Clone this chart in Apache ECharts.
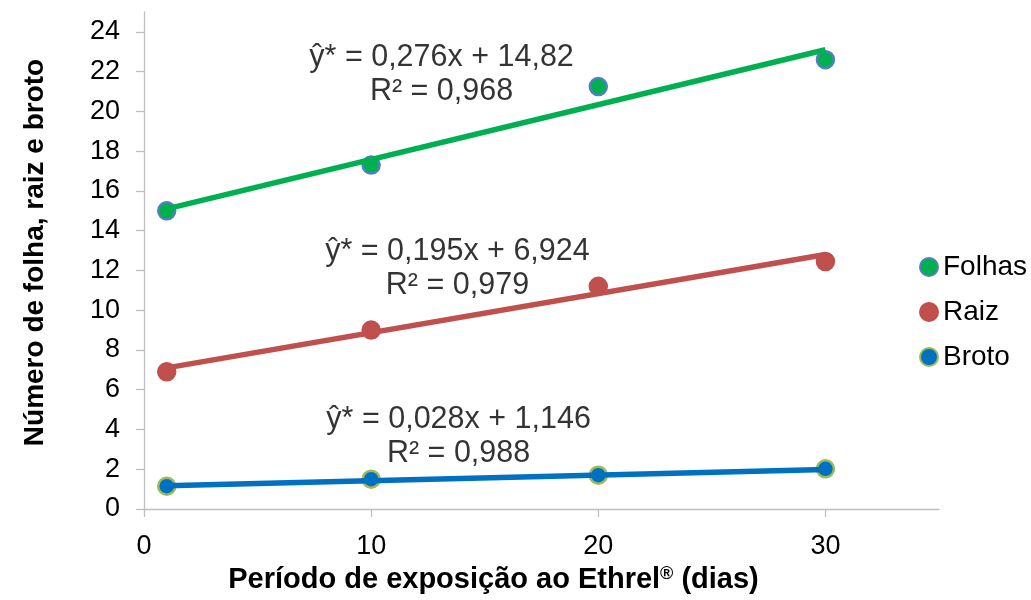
<!DOCTYPE html>
<html>
<head>
<meta charset="utf-8">
<script src="https://cdn.jsdelivr.net/npm/echarts@6/dist/echarts.min.js"></script>
<style>
html,body{margin:0;padding:0;background:#fff;}
#chart{width:1031px;height:600px;}
</style>
</head>
<body>
<div id="chart"></div>
<script>
// ---- data ----
const days = [1, 10, 20, 30];
const folhas = [15.0, 17.3, 21.25, 22.6];
const raiz = [6.9, 9.0, 11.2, 12.45];
const broto = [1.15, 1.5, 1.7, 2.02];

// fitted trendline endpoints (x = 1 and x = 30)
const trendX = [1, 30];
const trendFolhas = [15.1, 23.1];
const trendRaiz = [7.1, 12.8];
const trendBroto = [1.17, 1.99];

const seriesNames = ['Folhas', 'Raiz', 'Broto'];
const xTicks = [0, 10, 20, 30];
const yTicks = [0, 2, 4, 6, 8, 10, 12, 14, 16, 18, 20, 22, 24];

const eqFolhas = ['ŷ* = 0,276x + 14,82', 'R² = 0,968'];
const eqRaiz = ['ŷ* = 0,195x + 6,924', 'R² = 0,979'];
const eqBroto = ['ŷ* = 0,028x + 1,146', 'R² = 0,988'];
const eqAnchorX = [13.1, 13.8, 13.85];
const eqAnchorY = [21.84, 12.08, 3.65];

const xName = 'Período de exposição ao Ethrel{sup|®} (dias)';
const yName = 'Número de folha, raiz e broto';

// ---- chart ----
const FONT = '"Liberation Sans", Arial, sans-serif';
const pair = (xs, ys) => xs.map((x, i) => [x, ys[i]]);

const chart = echarts.init(document.getElementById('chart'), null, {renderer: 'canvas'});

const markerStyles = [
  {color: '#00B050', borderColor: '#4F81BD', borderWidth: 2.5, opacity: 1},
  {color: '#C0504D', borderColor: '#C0504D', borderWidth: 2.5, opacity: 1},
  {color: '#0070C0', borderColor: '#9BBB59', borderWidth: 2.5, opacity: 1}
];
const lineColors = ['#00B050', '#C0504D', '#0070C0'];
const pointSets = [folhas, raiz, broto];
const trendSets = [trendFolhas, trendRaiz, trendBroto];
const eqs = [eqFolhas, eqRaiz, eqBroto];

const series = [];
seriesNames.forEach((name, i) => {
  series.push({
    name: name,
    type: 'scatter',
    data: pair(days, pointSets[i]),
    symbol: 'circle',
    symbolSize: 17,
    itemStyle: markerStyles[i],
    z: 2,
    silent: true
  });
});
seriesNames.forEach((name, i) => {
  series.push({
    name: name + ' tendência',
    type: 'line',
    data: pair(trendX, trendSets[i]),
    showSymbol: false,
    symbol: 'none',
    lineStyle: {color: lineColors[i], width: 5.5},
    z: 3,
    silent: true
  });
});
series.push({
  name: 'equações',
  type: 'scatter',
  data: eqs.map((e, i) => [eqAnchorX[i], eqAnchorY[i]]),
  symbolSize: 1,
  itemStyle: {color: 'rgba(0,0,0,0)'},
  z: 4,
  silent: true,
  label: {
    show: true,
    position: 'inside',
    formatter: (p) => eqs[p.dataIndex].join('\n'),
    color: '#000000',
    textBorderWidth: 0,
    fontFamily: FONT,
    fontSize: 30.5,
    lineHeight: 34,
    align: 'center',
    verticalAlign: 'middle'
  }
});

chart.setOption({
  animation: false,
  backgroundColor: '#fff',
  grid: {left: 144, right: 92, top: 12, bottom: 91, containLabel: false},
  legend: {
    data: seriesNames,
    orient: 'vertical',
    left: 914,
    top: 248,
    icon: 'circle',
    itemWidth: 18,
    itemHeight: 18,
    itemGap: 17,
    textStyle: {fontFamily: FONT, fontSize: 28, color: '#000', lineHeight: 28}
  },
  xAxis: {
    type: 'value',
    min: 0,
    max: 35,
    interval: 5,
    name: xName,
    nameLocation: 'middle',
    nameGap: 50,
    nameTextStyle: {
      fontFamily: FONT, fontSize: 29, fontWeight: 'bold', color: '#000', padding: [0, 96, 0, 0],
      rich: {
        sup: {fontFamily: FONT, fontSize: 18, fontWeight: 'bold', color: '#000', verticalAlign: 'top', padding: [0, 0, 12, 0]}
      }
    },
    axisLine: {show: true, lineStyle: {color: '#BFBFBF', width: 1.3}},
    axisTick: {show: true, length: 8, lineStyle: {color: '#BFBFBF', width: 1.3}, customValues: xTicks},
    axisLabel: {fontFamily: FONT, fontSize: 27, color: '#000', margin: 24, customValues: xTicks},
    splitLine: {show: false}
  },
  yAxis: {
    type: 'value',
    min: 0,
    max: 25,
    interval: 1,
    name: yName,
    nameLocation: 'middle',
    nameGap: 95,
    nameTextStyle: {fontFamily: FONT, fontSize: 28, fontWeight: 'bold', color: '#000', padding: [0, 0, 0, 16]},
    axisLine: {show: true, lineStyle: {color: '#BFBFBF', width: 1.3}},
    axisTick: {show: true, length: 8, lineStyle: {color: '#BFBFBF', width: 1.3}, customValues: yTicks},
    axisLabel: {fontFamily: FONT, fontSize: 27, color: '#000', margin: 24, customValues: yTicks},
    splitLine: {show: false}
  },
  series: series
});
</script>
</body>
</html>
